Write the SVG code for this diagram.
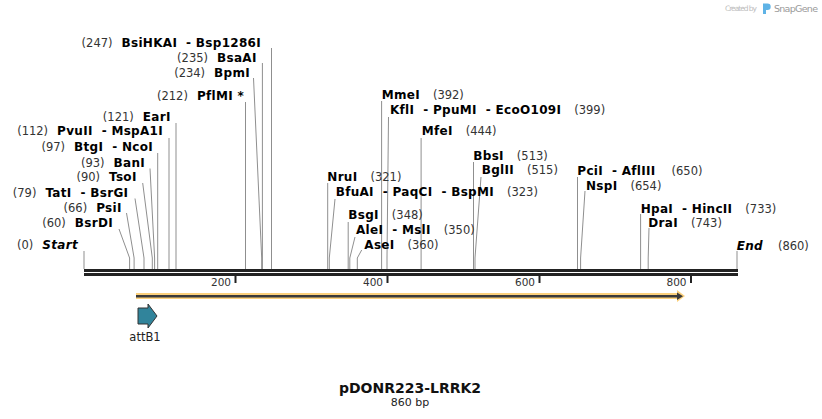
<svg xmlns="http://www.w3.org/2000/svg" width="822" height="419" viewBox="0 0 822 419" xml:space="preserve">
<style>
text { font-family: "DejaVu Sans", Verdana, sans-serif; white-space: pre; }
.lab { font-size: 11.5px; }
.num { font-size: 11.5px; fill: #333; font-weight: normal; }
.nm { font-size: 12px; fill: #000; font-weight: bold; letter-spacing: 0.3px; }
.it { font-style: italic; }
.ln { stroke: #8f8f8f; stroke-width: 1; fill: none; }
.axis { fill: #222; }
.tick { fill: #222; }
.tl { font-size: 10.5px; fill: #333; text-anchor: end; }
</style>
<rect width="822" height="419" fill="#fff"/>

<g id="logo">
<text x="725" y="11" font-family="Liberation Sans, sans-serif" font-size="7.5" fill="#bdbdbd" textLength="32">Created by</text>
<path d="M763,3.5 h4.5 a3.2,3.2 0 0 1 0,6.4 h-1.5 v4 h-3 z" fill="#5fb3e6"/>
<text x="774" y="12" font-size="9.5" fill="#9a9a9a" textLength="44">SnapGene</text>
</g>

<g id="connectors">
<path class="ln" d="M84,251 V269"/>
<path class="ln" d="M119,229 L129.6,258 V269"/>
<path class="ln" d="M126.5,213 L134.1,258 V269"/>
<path class="ln" d="M135,198.5 L144,258 V269"/>
<path class="ln" d="M142.7,183 L152.3,258 V269"/>
<path class="ln" d="M150,168.5 L154.6,258 V269"/>
<path class="ln" d="M157.7,153 V269"/>
<path class="ln" d="M169,138 V269"/>
<path class="ln" d="M176,123 V269"/>
<path class="ln" d="M245.5,102 V269"/>
<path class="ln" d="M253.5,78 L261.7,258 V269"/>
<path class="ln" d="M262.4,63 V269"/>
<path class="ln" d="M271.5,48 V269"/>
<path class="ln" d="M327.7,183 V269"/>
<path class="ln" d="M335,199 L329.3,258 V269"/>
<path class="ln" d="M348.2,222 V269"/>
<path class="ln" d="M355,237 L349.8,258 V269"/>
<path class="ln" d="M361.7,250 L357.3,258 V269"/>
<path class="ln" d="M381.6,101 V269"/>
<path class="ln" d="M388.5,117 L387,258 V269"/>
<path class="ln" d="M421.1,138 V269"/>
<path class="ln" d="M473.5,162 V269"/>
<path class="ln" d="M481,177 L475,258 V269"/>
<path class="ln" d="M577.5,177 V269"/>
<path class="ln" d="M585,191 L580.6,258 V269"/>
<path class="ln" d="M640.6,214 V269"/>
<path class="ln" d="M649,228 L648.2,258 V269"/>
<path class="ln" d="M737,251 V269"/>
</g>

<g id="axis">
<rect class="axis" x="84" y="269" width="654" height="3"/>
<rect class="axis" x="84" y="273" width="654" height="3"/>
<rect class="tick" x="234.5" y="276" width="2" height="7"/>
<rect class="tick" x="386.5" y="276" width="2" height="7"/>
<rect class="tick" x="538.5" y="276" width="2" height="7"/>
<rect class="tick" x="690" y="276" width="2" height="7"/>
<text class="tl" x="231" y="286">200</text>
<text class="tl" x="383" y="286">400</text>
<text class="tl" x="535" y="286">600</text>
<text class="tl" x="686.5" y="286">800</text>
</g>

<g id="site-start"><text class="lab" x="78" y="249" text-anchor="end"><tspan class="num">(0)</tspan><tspan class="nm it" dx="9">Start</tspan></text></g>
<g id="site-BsrDI"><text class="lab" x="113" y="226.5" text-anchor="end"><tspan class="num">(60)</tspan><tspan class="nm" dx="9">BsrDI</tspan></text></g>
<g id="site-PsiI"><text class="lab" x="121.7" y="211.5" text-anchor="end"><tspan class="num">(66)</tspan><tspan class="nm" dx="9">PsiI</tspan></text></g>
<g id="site-TatI"><text class="lab" x="128.3" y="196.5" text-anchor="end"><tspan class="num">(79)</tspan><tspan class="nm" dx="9">TatI  - BsrGI</tspan></text></g>
<g id="site-TsoI"><text class="lab" x="136.7" y="181" text-anchor="end"><tspan class="num">(90)</tspan><tspan class="nm" dx="9">TsoI</tspan></text></g>
<g id="site-BanI"><text class="lab" x="145" y="166.5" text-anchor="end"><tspan class="num">(93)</tspan><tspan class="nm" dx="9">BanI</tspan></text></g>
<g id="site-BtgI"><text class="lab" x="153" y="151" text-anchor="end"><tspan class="num">(97)</tspan><tspan class="nm" dx="9">BtgI  - NcoI</tspan></text></g>
<g id="site-PvuII"><text class="lab" x="163" y="135" text-anchor="end"><tspan class="num">(112)</tspan><tspan class="nm" dx="9">PvuII  - MspA1I</tspan></text></g>
<g id="site-EarI"><text class="lab" x="170.7" y="121" text-anchor="end"><tspan class="num">(121)</tspan><tspan class="nm" dx="9">EarI</tspan></text></g>
<g id="site-PflMI"><text class="lab" x="244" y="100" text-anchor="end"><tspan class="num">(212)</tspan><tspan class="nm" dx="9">PflMI *</tspan></text></g>
<g id="site-BpmI"><text class="lab" x="250" y="76.5" text-anchor="end"><tspan class="num">(234)</tspan><tspan class="nm" dx="9">BpmI</tspan></text></g>
<g id="site-BsaAI"><text class="lab" x="256.7" y="61.5" text-anchor="end"><tspan class="num">(235)</tspan><tspan class="nm" dx="9">BsaAI</tspan></text></g>
<g id="site-BsiHKAI"><text class="lab" x="261" y="47" text-anchor="end"><tspan class="num">(247)</tspan><tspan class="nm" dx="9">BsiHKAI  - Bsp1286I</tspan></text></g>

<g id="site-NruI"><text class="lab" x="327.3" y="180.5"><tspan class="nm">NruI</tspan><tspan class="num" dx="13">(321)</tspan></text></g>
<g id="site-BfuAI"><text class="lab" x="335.7" y="196"><tspan class="nm">BfuAI  - PaqCI  - BspMI</tspan><tspan class="num" dx="13">(323)</tspan></text></g>
<g id="site-BsgI"><text class="lab" x="348.3" y="219"><tspan class="nm">BsgI</tspan><tspan class="num" dx="13">(348)</tspan></text></g>
<g id="site-AleI"><text class="lab" x="356" y="234"><tspan class="nm">AleI  - MslI</tspan><tspan class="num" dx="13">(350)</tspan></text></g>
<g id="site-AseI"><text class="lab" x="364.3" y="249"><tspan class="nm">AseI</tspan><tspan class="num" dx="13">(360)</tspan></text></g>
<g id="site-MmeI"><text class="lab" x="381.7" y="98.5"><tspan class="nm">MmeI</tspan><tspan class="num" dx="13">(392)</tspan></text></g>
<g id="site-KflI"><text class="lab" x="390" y="114"><tspan class="nm">KflI  - PpuMI  - EcoO109I</tspan><tspan class="num" dx="13">(399)</tspan></text></g>
<g id="site-MfeI"><text class="lab" x="421.7" y="135"><tspan class="nm">MfeI</tspan><tspan class="num" dx="13">(444)</tspan></text></g>
<g id="site-BbsI"><text class="lab" x="473.3" y="160"><tspan class="nm">BbsI</tspan><tspan class="num" dx="13">(513)</tspan></text></g>
<g id="site-BglII"><text class="lab" x="481.7" y="174"><tspan class="nm">BglII</tspan><tspan class="num" dx="13">(515)</tspan></text></g>
<g id="site-PciI"><text class="lab" x="577.3" y="175"><tspan class="nm">PciI  - AflIII</tspan><tspan class="num" dx="16">(650)</tspan></text></g>
<g id="site-NspI"><text class="lab" x="586" y="189.5"><tspan class="nm">NspI</tspan><tspan class="num" dx="13">(654)</tspan></text></g>
<g id="site-HpaI"><text class="lab" x="640.7" y="212.5"><tspan class="nm">HpaI  - HincII</tspan><tspan class="num" dx="13">(733)</tspan></text></g>
<g id="site-DraI"><text class="lab" x="648.3" y="227"><tspan class="nm">DraI</tspan><tspan class="num" dx="13">(743)</tspan></text></g>
<g id="site-end"><text class="lab" x="736.7" y="249.5"><tspan class="nm it">End</tspan><tspan class="num" dx="15">(860)</tspan></text></g>

<g id="feature-orf">
<path d="M136,293 H677 V290 L685,296 L677,302 V299 H136 Z" fill="#fbd07c"/>
<rect x="136" y="295" width="542" height="2.5" fill="#3a3a3a"/>
<path d="M677,292.5 L683,296.2 L677,300 Z" fill="#3a3a3a"/>
</g>

<g id="feature-attB1">
<path d="M138,308 H148 V304 L157,316 L148,328 V324 H138 Z" fill="#31849b" stroke="#333" stroke-width="1"/>
<text x="145" y="341" font-size="11.5" fill="#222" text-anchor="middle">attB1</text>
</g>

<g id="title">
<text x="410" y="392.5" font-size="14" font-weight="bold" fill="#111" text-anchor="middle">pDONR223-LRRK2</text>
<text x="410" y="406" font-size="11" fill="#222" text-anchor="middle">860 bp</text>
</g>
</svg>
